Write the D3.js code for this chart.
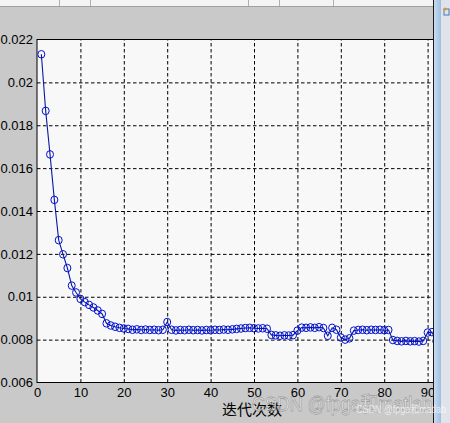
<!DOCTYPE html>
<html><head><meta charset="utf-8">
<script src="https://cdn.jsdelivr.net/npm/d3@7"></script>
<style>
html,body{margin:0;padding:0;background:#c9c9c9;}
svg{display:block;}
</style></head>
<body>
<script>
// ---- data ----
const iterations = d3.range(1, 93);
const fitness = [
0.02131,0.01867,0.01664,0.01452,0.01264,0.01198,0.01134,0.01052,0.01020,0.00990,
0.00975,0.00962,0.00950,0.00936,0.00920,0.00876,0.00866,0.00860,0.00855,0.00852,
0.00850,0.00846,0.00848,0.00845,0.00847,0.00845,0.00846,0.00844,0.00846,0.00882,
0.00846,0.00843,0.00845,0.00844,0.00846,0.00844,0.00845,0.00843,0.00845,0.00844,
0.00846,0.00845,0.00847,0.00846,0.00848,0.00850,0.00852,0.00854,0.00855,0.00853,
0.00852,0.00853,0.00851,0.00822,0.00820,0.00818,0.00820,0.00819,0.00821,0.00842,
0.00856,0.00855,0.00857,0.00855,0.00858,0.00854,0.00818,0.00855,0.00846,0.00810,
0.00800,0.00806,0.00842,0.00845,0.00846,0.00844,0.00846,0.00845,0.00846,0.00844,
0.00845,0.00798,0.00794,0.00792,0.00794,0.00792,0.00793,0.00791,0.00794,0.00833,
0.00835,0.00793
];
const xTicks = [0,10,20,30,40,50,60,70,80,90];
const yTicks = [0.006,0.008,0.010,0.012,0.014,0.016,0.018,0.020,0.022];
const yTickLabels = ["0.006","0.008","0.01","0.012","0.014","0.016","0.018","0.02","0.022"];
const xLabel = "迭代次数";
const watermark = "CSDN @fpga和matlab";

// ---- layout ----
const W = 450, H = 423;
const L = 37, R = 471, T = 39.5, B = 382.5;
const svg = d3.select("body").append("svg").attr("width", W).attr("height", H);

const x = d3.scaleLinear().domain([0, 100]).range([L, R]);
const y = d3.scaleLinear().domain([0.006, 0.022]).range([B, T]);

// top toolbar remnant
svg.append("rect").attr("x",0).attr("y",0).attr("width",W).attr("height",6).attr("fill","#f4f4f4");
[59,90,248,279,333].forEach(sx => svg.append("line").attr("x1",sx+0.5).attr("x2",sx+0.5).attr("y1",0).attr("y2",6).attr("stroke","#b0b0b0"));
svg.append("line").attr("x1",0).attr("x2",W).attr("y1",6.5).attr("y2",6.5).attr("stroke","#a0a0a0");

// plot background
svg.append("rect").attr("x",L).attr("y",T).attr("width",R-L).attr("height",B-T).attr("fill","#f8f8f8");

svg.append("clipPath").attr("id","pc").append("rect")
  .attr("x",L).attr("y",T).attr("width",R-L).attr("height",B-T);

// grid
const grid = svg.append("g").attr("clip-path","url(#pc)");
grid.append("g").attr("transform",`translate(0,${B})`)
  .call(d3.axisBottom(x).tickValues(xTicks.slice(1)).tickSize(-(B-T)).tickFormat(""))
  .call(g => g.select(".domain").remove())
  .call(g => g.selectAll("line").attr("stroke","#000").attr("stroke-dasharray","3.5,2.5"));
grid.append("g").attr("transform",`translate(${L},0)`)
  .call(d3.axisLeft(y).tickValues(yTicks.slice(1,-1)).tickSize(-(R-L)).tickFormat(""))
  .call(g => g.select(".domain").remove())
  .call(g => g.selectAll("line").attr("stroke","#000").attr("stroke-dasharray","3.5,2.5"));

// box
svg.append("rect").attr("x",L).attr("y",T).attr("width",R-L).attr("height",B-T)
  .attr("fill","none").attr("stroke","#000").attr("stroke-width",1);

// data
const pts = iterations.map((d,i) => ({i:d, v:fitness[i]}));
const dg = svg.append("g");
dg.append("path").datum(pts)
  .attr("d", d3.line().x(d => x(d.i)).y(d => y(d.v)))
  .attr("fill","none").attr("stroke","#0a1aa0").attr("stroke-width",1.1);
dg.selectAll("ellipse").data(pts).enter().append("ellipse")
  .attr("cx", d => x(d.i)).attr("cy", d => y(d.v))
  .attr("rx",3.5).attr("ry",3.8)
  .attr("fill","none").attr("stroke","#0010d0").attr("stroke-width",1);

// tick labels
const font = "'Liberation Sans', Arial, sans-serif";
svg.append("g").attr("transform",`translate(${L},0)`)
  .call(d3.axisLeft(y).tickValues(yTicks).tickSize(0).tickPadding(4).tickFormat((d,i)=>yTickLabels[i]))
  .call(g => g.select(".domain").remove())
  .call(g => g.selectAll("text").attr("font-family",font).attr("font-size",13).attr("fill","#000"));
svg.append("g").attr("transform",`translate(0,${B})`)
  .call(d3.axisBottom(x).tickValues(xTicks).tickSize(0).tickPadding(5))
  .call(g => g.select(".domain").remove())
  .call(g => g.selectAll("text").attr("font-family",font).attr("font-size",13).attr("fill","#000"));

// x label
svg.append("text").attr("x", x(50)-2).attr("y", 415).attr("text-anchor","middle")
  .attr("font-family","'Noto Sans CJK SC', sans-serif").attr("font-size",15).attr("fill","#000")
  .text(xLabel);

// right window frame
svg.append("rect").attr("x",434).attr("y",0).attr("width",16).attr("height",H).attr("fill","#dfe4ea");
svg.append("line").attr("x1",433.5).attr("x2",433.5).attr("y1",0).attr("y2",H).attr("stroke","#1a1a1a");
const grad = svg.append("linearGradient").attr("id","fr").attr("x1","0").attr("x2","1");
grad.append("stop").attr("offset","0").attr("stop-color","#c8dcf0");
grad.append("stop").attr("offset","1").attr("stop-color","#9fbde0");
svg.append("rect").attr("x",434).attr("y",0).attr("width",7).attr("height",H).attr("fill","url(#fr)");
svg.append("rect").attr("x",444).attr("y",9).attr("width",5).attr("height",6).attr("fill","none").attr("stroke","#4a78b8");
svg.append("circle").attr("cx",445).attr("cy",9).attr("r",1.6).attr("fill","#e89030");

// watermark (on top of everything)
svg.append("text").attr("x",252).attr("y",411).attr("textLength",180).attr("lengthAdjust","spacingAndGlyphs")
  .attr("font-family","'Liberation Sans', 'Noto Sans CJK SC', sans-serif").attr("font-size",21)
  .attr("fill","#ffffff").attr("fill-opacity",0.6).attr("stroke","#6a6a6a").attr("stroke-opacity",0.5).attr("stroke-width",0.8)
  .text(watermark);
svg.append("text").attr("x",356).attr("y",413).attr("textLength",90).attr("lengthAdjust","spacingAndGlyphs")
  .attr("font-family","'Liberation Sans', 'Noto Sans CJK SC', sans-serif").attr("font-size",10)
  .attr("fill","#ffffff").attr("fill-opacity",0.7)
  .text(watermark);
</script>
</body></html>
